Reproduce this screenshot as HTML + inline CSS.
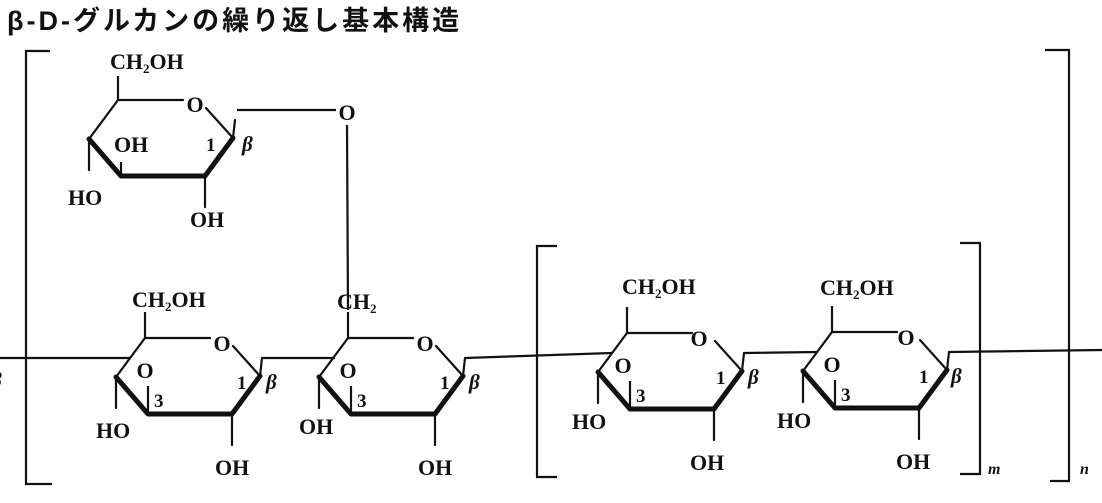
<!DOCTYPE html>
<html><head><meta charset="utf-8"><style>
html,body{margin:0;padding:0;background:#fff;}
svg{display:block;}
text{font-family:"Liberation Serif",serif;font-weight:bold;fill:#111;}
.t{font-family:"Liberation Sans","Noto Sans CJK JP",sans-serif;font-weight:bold;font-size:27px;letter-spacing:3px;}
.l{font-size:22px;}
.s{font-size:13px;}
.n{font-size:19px;}
.b{font-style:italic;font-size:21px;}
</style></head><body>
<svg width="1102" height="503" viewBox="0 0 1102 503" xmlns="http://www.w3.org/2000/svg">
<defs>
<g id="ring" stroke="#111" fill="none" stroke-linecap="round">
  <line x1="0" y1="0" x2="65" y2="0" stroke-width="2.2"/>
  <line x1="88" y1="8" x2="115" y2="38" stroke-width="2.2"/>
  <line x1="-29" y1="39" x2="0" y2="0" stroke-width="2.2"/>
  <path d="M-29 39 L3 76 L87 76 L115 38" stroke-width="5" stroke-linejoin="round"/>
  <line x1="87" y1="76" x2="87" y2="107" stroke-width="2.2"/>
  <line x1="-29" y1="39" x2="-29" y2="70" stroke-width="2.2"/>
  <line x1="115" y1="38" x2="117" y2="20" stroke-width="2.2"/>
</g>
</defs>

<text class="t" x="7" y="30">β-D-グルカンの繰り返し基本構造</text>

<g stroke="#111" stroke-width="2.2" fill="none">
  <path d="M50 51 L26 51 L26 484 L52 484"/>
  <path d="M1045 50 L1069 50 L1069 481 L1050 481"/>
  <path d="M557 246 L537 246 L537 477 L557 477"/>
  <path d="M960 243 L980 243 L980 474 L960 474"/>
  <line x1="0" y1="358" x2="130" y2="358"/>
  <line x1="262" y1="358" x2="335" y2="358"/>
  <line x1="465" y1="358" x2="612" y2="353"/>
  <line x1="744" y1="353" x2="818" y2="352"/>
  <line x1="949" y1="352" x2="1102" y2="350"/>
  <line x1="237" y1="110" x2="336" y2="110"/>
  <line x1="347" y1="125" x2="348" y2="310"/>
</g>

<g transform="translate(118,100)">
  <use href="#ring"/>
  <line x1="3" y1="76" x2="3" y2="62" stroke="#111" stroke-width="2.2"/>
  <text class="l" x="-8" y="-31">CH<tspan class="s" dy="4">2</tspan><tspan dy="-4">OH</tspan></text>
  <line x1="0" y1="0" x2="0" y2="-24" stroke="#111" stroke-width="2.2"/>
  <text class="l" x="77" y="12" text-anchor="middle">O</text>
  <text class="l" x="-4" y="52">OH</text>
  <text class="l" x="-50" y="105">HO</text>
  <text class="l" x="72" y="127">OH</text>
  <text class="n" x="88" y="51">1</text>
  <text class="b" x="124" y="51">β</text>
</g>
<text class="l" x="347" y="120" text-anchor="middle">O</text>

<g transform="translate(145,338)">
  <use href="#ring"/>
  <line x1="3" y1="76" x2="3" y2="48" stroke="#111" stroke-width="2.2"/>
  <line x1="0" y1="0" x2="0" y2="-26" stroke="#111" stroke-width="2.2"/>
  <text class="l" x="-13" y="-31">CH<tspan class="s" dy="4">2</tspan><tspan dy="-4">OH</tspan></text>
  <text class="l" x="77" y="13" text-anchor="middle">O</text>
  <text class="l" x="0" y="40" text-anchor="middle">O</text>
  <text class="n" x="9" y="69">3</text>
  <text class="n" x="92" y="51">1</text>
  <text class="b" x="121" y="51">β</text>
  <text class="l" x="-49" y="100">HO</text>
  <text class="l" x="70" y="137">OH</text>
</g>

<g transform="translate(348,338)">
  <use href="#ring"/>
  <line x1="3" y1="76" x2="3" y2="48" stroke="#111" stroke-width="2.2"/>
  <line x1="0" y1="0" x2="0" y2="-26" stroke="#111" stroke-width="2.2"/>
  <text class="l" x="-11" y="-29">CH<tspan class="s" dy="4">2</tspan></text>
  <text class="l" x="77" y="13" text-anchor="middle">O</text>
  <text class="l" x="0" y="40" text-anchor="middle">O</text>
  <text class="n" x="9" y="69">3</text>
  <text class="n" x="92" y="51">1</text>
  <text class="b" x="121" y="51">β</text>
  <text class="l" x="-49" y="96">OH</text>
  <text class="l" x="70" y="137">OH</text>
</g>

<g transform="translate(627,333)">
  <use href="#ring"/>
  <line x1="3" y1="76" x2="3" y2="48" stroke="#111" stroke-width="2.2"/>
  <line x1="0" y1="0" x2="0" y2="-26" stroke="#111" stroke-width="2.2"/>
  <text class="l" x="-5" y="-39">CH<tspan class="s" dy="4">2</tspan><tspan dy="-4">OH</tspan></text>
  <text class="l" x="72" y="13" text-anchor="middle">O</text>
  <text class="l" x="-4" y="40" text-anchor="middle">O</text>
  <text class="n" x="9" y="69">3</text>
  <text class="n" x="89" y="51">1</text>
  <text class="b" x="121" y="51">β</text>
  <text class="l" x="-55" y="96">HO</text>
  <text class="l" x="63" y="137">OH</text>
</g>

<g transform="translate(832,332)">
  <use href="#ring"/>
  <line x1="3" y1="76" x2="3" y2="48" stroke="#111" stroke-width="2.2"/>
  <line x1="0" y1="0" x2="0" y2="-26" stroke="#111" stroke-width="2.2"/>
  <text class="l" x="-12" y="-37">CH<tspan class="s" dy="4">2</tspan><tspan dy="-4">OH</tspan></text>
  <text class="l" x="74" y="13" text-anchor="middle">O</text>
  <text class="l" x="0" y="40" text-anchor="middle">O</text>
  <text class="n" x="9" y="69">3</text>
  <text class="n" x="87" y="51">1</text>
  <text class="b" x="119" y="51">β</text>
  <text class="l" x="-55" y="96">HO</text>
  <text class="l" x="64" y="137">OH</text>
</g>

<text class="b" x="-9" y="387">β</text>
<text class="b" x="988" y="474" style="font-size:16px">m</text>
<text class="b" x="1080" y="474" style="font-size:16px">n</text>
</svg>
</body></html>
